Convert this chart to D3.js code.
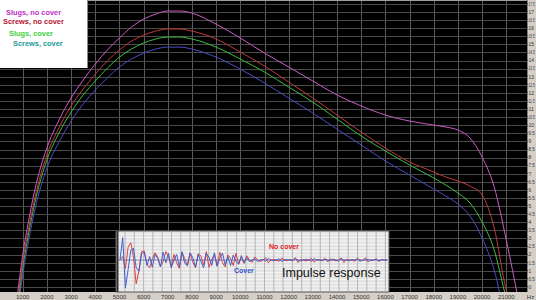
<!DOCTYPE html>
<html><head><meta charset="utf-8">
<script src="https://cdn.jsdelivr.net/npm/d3@7"></script>
<style>html,body{margin:0;padding:0;background:#d4d0c8;overflow:hidden}svg{display:block}</style>
</head><body><svg id="c" width="536" height="300"></svg>
<script>
// ---- data ----
const freqs = [800,1000,1250,1500,2000,2500,3000,3500,4000,4500,5000,5500,6000,6500,7000,7500,8000,9000,10000,11000,12000,13000,14000,15000,16000,17000,18000,18500,19000,19500,20000,20500,21000,21500];
const slugsNoCover  = [-0.3,1.98,4.14,6.0,8.59,10.32,11.68,12.79,13.78,14.65,15.39,16.07,16.56,16.87,17.06,17.06,16.93,16.25,15.39,14.46,13.6,12.73,11.87,11.19,10.63,10.26,10.01,9.89,9.7,9.21,8.03,6.18,2.9,-0.8];
const screwsNoCover = [-0.8,1.55,3.65,5.5,8.16,9.83,11.19,12.24,13.16,13.97,14.65,15.2,15.57,15.82,15.95,15.95,15.82,15.33,14.52,13.66,12.67,11.68,10.63,9.58,8.59,7.73,7.11,6.8,6.55,6.24,5.69,3.65,-0.19,-2];
const slugsCover    = [-1.11,1.17,3.34,5.19,7.85,9.52,10.81,11.87,12.73,13.53,14.21,14.71,15.08,15.33,15.45,15.45,15.33,14.83,14.09,13.29,12.36,11.43,10.38,9.33,8.41,7.54,6.74,6.3,5.81,5.19,4.02,2.29,-0.68,-2.66];
const screwsCover   = [-1.42,0.74,2.9,4.76,7.35,8.96,10.26,11.31,12.18,12.92,13.6,14.09,14.46,14.71,14.83,14.83,14.71,14.21,13.47,12.61,11.68,10.75,9.76,8.78,7.79,6.92,6.06,5.62,5.13,4.39,3.03,1.05,-2.04,-3.28];
const seriesNames = ["Slugs, no cover","Screws, no cover","Slugs, cover","Screws, cover"];
const xTicks = [1000,2000,3000,4000,5000,6000,7000,8000,9000,10000,11000,12000,13000,14000,15000,16000,17000,18000,19000,20000,21000];
const yTicks = [0,0.5,1,1.5,2,2.5,3,3.5,4,4.5,5,5.5,6,6.5,7,7.5,8,8.5,9,9.5,10,10.5,11,11.5,12,12.5,13,13.5,14,14.5,15,15.5,16,16.5,17,17.5];
const impulseNoCover = [0,0.12,-0.3,0.45,0.62,0.1,-0.85,-0.4,0.3,0.32,-0.15,-0.28,0.05,0.26,0.1,-0.22,-0.05,0.3,0.12,-0.24,0.2,-0.1,-0.3,0.27,0.05,-0.2,0.25,-0.08,-0.28,0.22,0.15,-0.18,0.3,-0.26,0.02,0.2,-0.22,0.28,-0.1,-0.25,0.18,0.05,-0.2,0.24,-0.15,0.1,-0.12,0.15,0,-0.08,0.1,0.02,-0.06,0,0.08,-0.1,0,0.02,0,-0.05,0.07,0,-0.03,0.02,0,0.08,-0.09,0.03,0,-0.04,0,0.06,-0.08,0.02,0,0,0.05,-0.07,0.04,0,-0.03,0,0.07,-0.09,0.03,0,0,-0.05,0.06,0,-0.02,0.08,-0.07,0,0,0.04,-0.05,0.02,0,0];
const impulseCover = [0,0.8,-1.0,-0.35,0.35,0.42,-0.28,-0.4,0.22,0.28,-0.2,0.12,-0.26,0.2,0.05,-0.25,0.28,-0.1,0.24,-0.28,0,0.2,-0.24,0.3,-0.12,-0.2,0.26,0.08,-0.25,0.2,-0.05,-0.28,0.24,0.1,-0.2,0.26,-0.22,0.05,0.25,-0.18,0.12,-0.2,0.18,-0.06,-0.15,0.16,-0.1,0.08,-0.06,0,0.05,-0.06,0,0.02,-0.04,0.05,0,-0.03,0,0.04,-0.05,0,0.02,0,-0.03,0.05,0,-0.04,0,0.03,0,-0.04,0.05,0,0,-0.03,0.04,0,-0.02,0.03,0,-0.04,0.05,0,0,-0.03,0.02,0,0.04,-0.05,0,0,0.03,-0.02,0,0.02,-0.03,0,0.01,0];

// ---- layout ----
const svg = d3.select("#c");
const PR = 527, PB = 292;
const x = d3.scaleLinear().domain([1000,21000]).range([22.7,506.3]);
const y = d3.scaleLinear().domain([0,17]).range([287,12]);
const FONT = "Liberation Sans, Arial, sans-serif";

svg.append("rect").attr("width",536).attr("height",300).attr("fill","#d4d0c8");
svg.append("rect").attr("x",0).attr("y",0).attr("width",PR).attr("height",PB).attr("fill","#000");
svg.append("defs").append("clipPath").attr("id","pc").append("rect").attr("x",0).attr("y",0).attr("width",PR).attr("height",PB);

const grid = svg.append("g").attr("clip-path","url(#pc)");
grid.selectAll("line.v").data(xTicks).join("line")
  .attr("x1",d=>Math.round(x(d))+0.5).attr("x2",d=>Math.round(x(d))+0.5)
  .attr("y1",0).attr("y2",PB).attr("stroke","#5a5a5a").attr("stroke-width",1);
grid.selectAll("line.h").data(yTicks).join("line")
  .attr("y1",d=>Math.round(y(d))+0.5).attr("y2",d=>Math.round(y(d))+0.5)
  .attr("x1",0).attr("x2",PR).attr("stroke","#4a4a4a").attr("stroke-width",1);
svg.append("line").attr("x1",0).attr("x2",PR).attr("y1",0.5).attr("y2",0.5).attr("stroke","#a0a0a0");
svg.append("line").attr("x1",PR+0.5).attr("x2",PR+0.5).attr("y1",0).attr("y2",PB).attr("stroke","#808080");

// curves
const colors = ["#cc5cc8","#c03a3a","#3cbc3c","#4c4cc8"];
const series = [slugsNoCover, screwsNoCover, slugsCover, screwsCover];
const line = d3.line().x((d,i)=>x(freqs[i])).y(d=>y(d)).curve(d3.curveMonotoneX);
const cg = svg.append("g").attr("clip-path","url(#pc)");
series.slice().reverse().forEach((s,k)=>{
  const idx = series.length-1-k;
  cg.append("path").attr("d",line(s)).attr("fill","none").attr("stroke",colors[idx]).attr("stroke-width",1);
});

// right axis
const ra = svg.append("g").attr("font-family",FONT).attr("font-size",5).attr("fill","#333");
yTicks.forEach(v=>{
  ra.append("line").attr("x1",PR).attr("x2",PR+1.2).attr("y1",y(v)).attr("y2",y(v)).attr("stroke","#444");
  const g = ra.append("g");
  const t = g.append("text").attr("x",0).attr("y",0).text(String(v));
  const w = t.node().getComputedTextLength();
  const sx = Math.min(1, 6.3 / w);
  g.attr("transform",`translate(${PR+1.5},${y(v)+1.8}) scale(${sx},1)`);
});
// bottom axis
const ba = svg.append("g").attr("font-family",FONT).attr("font-size",6).attr("fill","#333").attr("text-anchor","middle");
xTicks.forEach(v=>{ ba.append("text").attr("x",x(v)).attr("y",298.5).text(v); });
ba.append("text").attr("x",530.5).attr("y",298.5).text("Hz");

// legend
const lg = svg.append("g");
lg.append("rect").attr("x",0).attr("y",0).attr("width",87).attr("height",68).attr("fill","#fff");
lg.append("line").attr("x1",87.5).attr("x2",87.5).attr("y1",0).attr("y2",68).attr("stroke","#888");
const legPos = [[6,15],[3,24],[9,36],[13,46]];
const legCol = ["#c030c8","#b81030","#40d040","#1a9a9a"];
seriesNames.forEach((n,i)=>{
  lg.append("text").attr("x",legPos[i][0]).attr("y",legPos[i][1]).text(n)
    .attr("font-family",FONT).attr("font-weight","bold").attr("font-size",7.4).attr("fill",legCol[i]);
});

// inset
const ix0=116, iy0=231, ix1=389, iy1=292;
const ins = svg.append("g");
ins.append("rect").attr("x",ix0).attr("y",iy0).attr("width",ix1-ix0).attr("height",iy1-iy0).attr("fill","#e4e4e4").attr("stroke","#555");
ins.append("clipPath").attr("id","ic").append("rect").attr("x",ix0+1).attr("y",iy0+1).attr("width",ix1-ix0-2).attr("height",iy1-iy0-2);
const ig = ins.append("g").attr("clip-path","url(#ic)");
const hLines = d3.range(iy0+3, iy1, 3.5);
ig.selectAll("line.h").data(hLines).join("line").attr("x1",ix0).attr("x2",ix1).attr("y1",d=>d).attr("y2",d=>d).attr("stroke","#fafafa").attr("stroke-width",0.8);
const vLines = d3.range(ix0+9, ix1, 9.3);
ig.selectAll("line.v").data(vLines).join("line").attr("y1",iy0).attr("y2",iy1).attr("x1",d=>d).attr("x2",d=>d).attr("stroke","#a8a8a8").attr("stroke-width",0.8);
ins.append("line").attr("x1",ix0+1.5).attr("x2",ix0+1.5).attr("y1",iy0).attr("y2",iy1).attr("stroke","#333").attr("stroke-width",2);
const tx = d3.scaleLinear().domain([0,impulseCover.length-1]).range([120,387]);
const ty = d3.scaleLinear().domain([-1,1]).range([288,232]);
ig.append("line").attr("x1",ix0).attr("x2",ix1).attr("y1",ty(0)).attr("y2",ty(0)).attr("stroke","#7090b0");
const il = d3.line().x((d,i)=>tx(i)).y(d=>ty(d));
ig.append("path").attr("d",il(impulseNoCover)).attr("fill","none").attr("stroke","#e04040").attr("stroke-width",1);
ig.append("path").attr("d",il(impulseCover)).attr("fill","none").attr("stroke","#4060d0").attr("stroke-width",1);
ins.append("text").attr("x",269).attr("y",249).text("No cover").attr("font-family",FONT).attr("font-weight","bold").attr("font-size",7).attr("fill","#e02020");
ins.append("text").attr("x",234).attr("y",273).text("Cover").attr("font-family",FONT).attr("font-weight","bold").attr("font-size",7).attr("fill","#3050d0");
ins.append("text").attr("x",282).attr("y",277).text("Impulse response").attr("font-family",FONT).attr("font-size",12.5).attr("fill","#111");
</script></body></html>
